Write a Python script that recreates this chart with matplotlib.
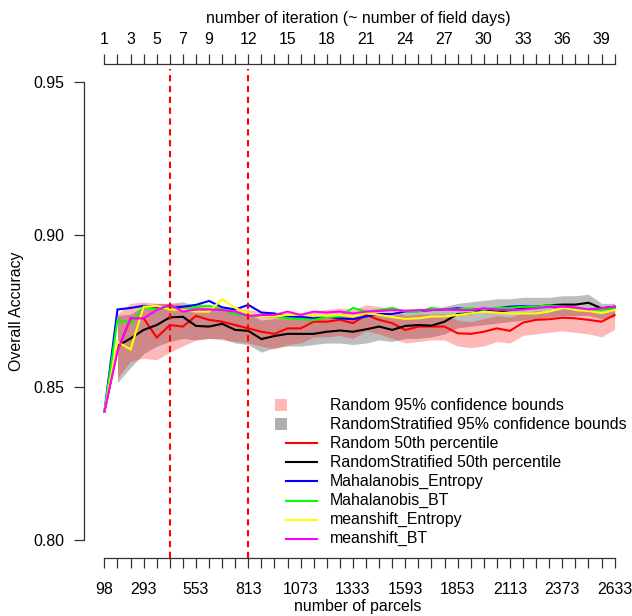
import matplotlib
matplotlib.use('Agg')
import matplotlib.pyplot as plt
from matplotlib.patches import Rectangle
from matplotlib.lines import Line2D

plt.rcParams['font.family'] = ['Liberation Sans', 'DejaVu Sans']

W, H = 632, 616

iterations = list(range(1, 41))
parcels = [98, 163, 228, 293, 358, 423, 488, 553, 618, 683, 748, 813, 878, 943,
           1008, 1073, 1138, 1203, 1268, 1333, 1398, 1463, 1528, 1593, 1658, 1723,
           1788, 1853, 1918, 1983, 2048, 2113, 2178, 2243, 2308, 2373, 2438, 2503,
           2568, 2633]
bottom_labels = [98, 293, 553, 813, 1073, 1333, 1593, 1853, 2113, 2373, 2633]
top_labels = [1, 3, 5, 7, 9, 12, 15, 18, 21, 24, 27, 30, 33, 36, 39]
marked_parcels = [423, 813]

random_lo = [0.842, 0.853, 0.8585, 0.8595, 0.859, 0.8615, 0.8635, 0.8655, 0.866, 0.8655,
             0.865, 0.8645, 0.8635, 0.8625, 0.864, 0.8645, 0.8665, 0.8665, 0.867, 0.866,
             0.8685, 0.8675, 0.866, 0.8645, 0.865, 0.8655, 0.8655, 0.8635, 0.863, 0.8635,
             0.865, 0.8645, 0.867, 0.8675, 0.868, 0.8685, 0.868, 0.8675, 0.8665, 0.869]
random_hi = [0.842, 0.874, 0.8775, 0.878, 0.8775, 0.8775, 0.877, 0.8775, 0.877, 0.8765,
             0.876, 0.8755, 0.8745, 0.874, 0.8745, 0.8745, 0.875, 0.8755, 0.876, 0.8755,
             0.877, 0.8765, 0.8755, 0.8735, 0.874, 0.874, 0.874, 0.872, 0.8715, 0.8725,
             0.8735, 0.873, 0.8745, 0.875, 0.875, 0.8755, 0.8755, 0.875, 0.8745, 0.8765]
strat_lo = [0.842, 0.8515, 0.8565, 0.861, 0.8635, 0.865, 0.866, 0.8655, 0.866, 0.866,
            0.8645, 0.864, 0.8615, 0.863, 0.8635, 0.8635, 0.864, 0.8645, 0.8645, 0.864,
            0.8645, 0.8655, 0.865, 0.866, 0.866, 0.8665, 0.8675, 0.8695, 0.870, 0.8705,
            0.871, 0.8715, 0.872, 0.8725, 0.873, 0.8735, 0.8735, 0.8735, 0.8725, 0.873]
strat_hi = [0.842, 0.8735, 0.874, 0.8765, 0.8775, 0.8775, 0.878, 0.8765, 0.876, 0.876,
            0.8745, 0.874, 0.872, 0.8725, 0.8725, 0.8725, 0.873, 0.8735, 0.8735, 0.8735,
            0.874, 0.874, 0.8735, 0.8745, 0.875, 0.8755, 0.8765, 0.8775, 0.878, 0.8785,
            0.879, 0.879, 0.8795, 0.8795, 0.8795, 0.880, 0.880, 0.8805, 0.8775, 0.8775]

random_p50 = [0.842, 0.862, 0.8726, 0.8726, 0.8663, 0.8704, 0.8699, 0.8734, 0.8721, 0.8715,
              0.8704, 0.8693, 0.8682, 0.8675, 0.8693, 0.8693, 0.8715, 0.8715, 0.8721, 0.871,
              0.8737, 0.8721, 0.871, 0.8688, 0.8699, 0.8699, 0.8699, 0.8677, 0.8675, 0.8682,
              0.8693, 0.8685, 0.8712, 0.8721, 0.8723, 0.8728, 0.8726, 0.8721, 0.8715, 0.8737]
strat_p50 = [0.842, 0.8635, 0.866, 0.8688, 0.8704, 0.8729, 0.8731, 0.8701, 0.8699, 0.8708,
             0.8688, 0.8685, 0.8658, 0.8668, 0.8675, 0.8675, 0.8675, 0.8682, 0.8686, 0.8682,
             0.869, 0.8699, 0.8688, 0.8701, 0.8704, 0.8702, 0.8715, 0.874, 0.8742, 0.8751,
             0.8748, 0.8753, 0.8759, 0.8764, 0.8769, 0.8771, 0.8771, 0.8777, 0.8759, 0.8764]
maha_entropy = [0.842, 0.8755, 0.876, 0.8767, 0.8764, 0.876, 0.8764, 0.877, 0.8783, 0.8762,
                0.8755, 0.877, 0.8745, 0.8742, 0.8731, 0.8731, 0.8726, 0.8731, 0.8726, 0.8723,
                0.8732, 0.874, 0.874, 0.8748, 0.875, 0.8753, 0.8755, 0.8759, 0.8755, 0.8753,
                0.8759, 0.8764, 0.8766, 0.8764, 0.8764, 0.876, 0.8753, 0.8755, 0.8759, 0.8762]
maha_bt = [0.842, 0.8721, 0.871, 0.8762, 0.8755, 0.876, 0.8753, 0.8764, 0.8767, 0.8755,
           0.874, 0.8734, 0.8734, 0.8731, 0.8726, 0.8723, 0.8721, 0.873, 0.8732, 0.876,
           0.8748, 0.8753, 0.876, 0.8748, 0.8748, 0.876, 0.8755, 0.8755, 0.8759, 0.8755,
           0.876, 0.876, 0.8764, 0.8764, 0.8769, 0.8764, 0.8759, 0.8755, 0.8753, 0.8759]
ms_entropy = [0.842, 0.8649, 0.8624, 0.8764, 0.8767, 0.8755, 0.8753, 0.8748, 0.8748, 0.8789,
              0.876, 0.8742, 0.8734, 0.8732, 0.8737, 0.8739, 0.8737, 0.8734, 0.8737, 0.8732,
              0.8743, 0.8737, 0.873, 0.8724, 0.8726, 0.8732, 0.8732, 0.8737, 0.8742, 0.8748,
              0.8745, 0.8742, 0.8742, 0.8742, 0.8748, 0.876, 0.8753, 0.875, 0.8743, 0.8753]
ms_bt = [0.842, 0.862, 0.8726, 0.8726, 0.8753, 0.877, 0.8748, 0.8755, 0.8755, 0.8753,
         0.8748, 0.8734, 0.8737, 0.8737, 0.8748, 0.8737, 0.8748, 0.8745, 0.8748, 0.8742,
         0.8748, 0.875, 0.8753, 0.8751, 0.8753, 0.8753, 0.8755, 0.8753, 0.8753, 0.8759,
         0.8755, 0.8753, 0.8755, 0.8759, 0.8764, 0.8764, 0.8762, 0.8755, 0.8759, 0.8764]

legend_labels = ['Random 95% confidence bounds', 'RandomStratified 95% confidence bounds',
                 'Random 50th percentile', 'RandomStratified 50th percentile',
                 'Mahalanobis_Entropy', 'Mahalanobis_BT', 'meanshift_Entropy', 'meanshift_BT']

C_PINK = (1, 0, 0, 0.28)
C_GRAY = '#bdbdbd'
line_series = [(random_p50, '#ff0000'), (strat_p50, '#000000'), (maha_entropy, '#0000ff'),
               (maha_bt, '#00ff00'), (ms_entropy, '#ffff00'), (ms_bt, '#ff00ff')]

FS = 11.4
AXC = '#333333'

fig = plt.figure(figsize=(W / 100, H / 100), dpi=100)
L, R, T, B = 84, 635, 64, 558
ax = fig.add_axes([L / W, 1 - B / H, (R - L) / W, (B - T) / H])
ax.set_xlim(-3.4, 2734.4)
ax.set_ylim(0.794, 0.956)

# bands (start at iteration 2)
ax.fill_between(parcels[1:], strat_lo[1:], strat_hi[1:], color=C_GRAY, lw=0, zorder=1)
ax.fill_between(parcels[1:], random_lo[1:], random_hi[1:], color=C_PINK, lw=0, zorder=2)

for vals, col in line_series:
    ax.plot(parcels, vals, color=col, lw=1.5, zorder=3, solid_joinstyle='miter')

for xp in marked_parcels:
    ax.axvline(xp, color='#ff0000', lw=1.5, dashes=(3, 2.2), zorder=4, ymin=0, ymax=0.99)

# spines / axes
for s in ['right', 'top']:
    ax.spines[s].set_visible(False)
ax.spines['left'].set_bounds(0.80, 0.95)
ax.spines['bottom'].set_bounds(98, 2633)
for s in ['left', 'bottom']:
    ax.spines[s].set_color(AXC)
    ax.spines[s].set_linewidth(0.9)

ax.set_yticks([0.80, 0.85, 0.90, 0.95])
ax.set_yticklabels(['0.80', '0.85', '0.90', '0.95'])
ax.set_xticks(parcels)
ax.set_xticklabels([str(p) if p in bottom_labels else '' for p in parcels])
ax.tick_params(axis='both', direction='out', length=7, width=0.9, color=AXC,
               labelsize=FS)
ax.tick_params(axis='x', pad=10)
ax.tick_params(axis='y', pad=7)

ax2 = ax.twiny()
ax2.set_xlim(ax.get_xlim())
ax2.set_xticks(parcels)
ax2.set_xticklabels([str(i) if i in top_labels else '' for i in iterations])
for s in ['left', 'right', 'bottom']:
    ax2.spines[s].set_visible(False)
ax2.spines['top'].set_bounds(98, 2633)
ax2.spines['top'].set_color(AXC)
ax2.spines['top'].set_linewidth(0.9)
ax2.tick_params(axis='x', direction='out', length=7, width=0.9, color=AXC,
                labelsize=FS, pad=5)

def fx(px):
    return px / W

def fy(py):
    return 1 - py / H

fig.text(fx(358), fy(18), 'number of iteration (~ number of field days)', ha='center',
         va='center', fontsize=FS)
fig.text(fx(358), fy(606), 'number of parcels', ha='center', va='center', fontsize=FS)
fig.text(fx(17), fy(311), 'Overall Accuracy', ha='center', va='center', rotation=90,
         fontsize=FS)

# legend
row0, dy = 405, 19.1
for k, lab in enumerate(legend_labels):
    yy = row0 + k * dy
    if k == 0:
        fig.patches.append(Rectangle((fx(275), fy(yy + 6)), 12 / W, 12 / H, color=C_PINK,
                                     lw=0, transform=fig.transFigure))
    elif k == 1:
        fig.patches.append(Rectangle((fx(275), fy(yy + 6)), 12 / W, 12 / H, color='#b0b0b0',
                                     lw=0, transform=fig.transFigure))
    else:
        col = line_series[k - 2][1]
        fig.lines.append(Line2D([fx(286), fx(317)], [fy(yy), fy(yy)], color=col, lw=1.5,
                                transform=fig.transFigure))
    fig.text(fx(330), fy(yy), lab, ha='left', va='center', fontsize=FS)

fig.savefig('out.png', dpi=100)
